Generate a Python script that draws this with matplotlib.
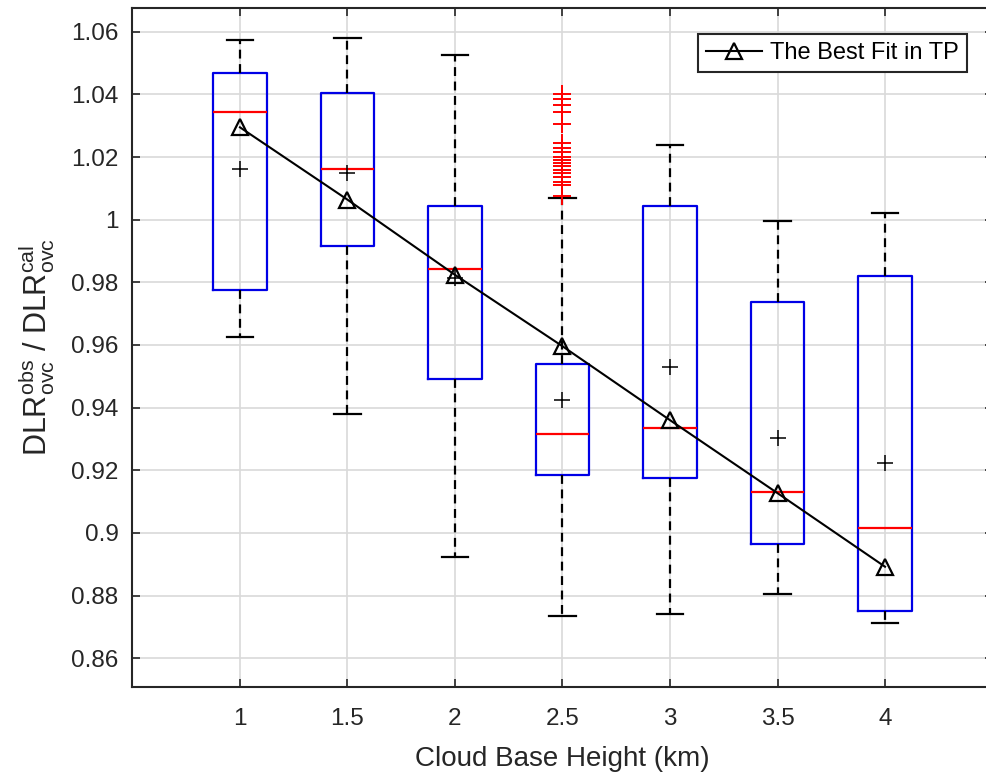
import numpy as np
import matplotlib.pyplot as plt

plt.rcParams['font.family'] = ['Liberation Sans', 'DejaVu Sans']
plt.rcParams['mathtext.fontset'] = 'custom'
plt.rcParams['mathtext.rm'] = 'Liberation Sans'
plt.rcParams['mathtext.it'] = 'Liberation Sans:italic'

# Box statistics
heights = [1, 1.5, 2, 2.5, 3, 3.5, 4]
q1 = [0.9776, 0.9915, 0.9492, 0.9185, 0.9175, 0.8964, 0.8752]
med = [1.0344, 1.0162, 0.9843, 0.9315, 0.9334, 0.9132, 0.9017]
q3 = [1.0468, 1.0403, 1.0043, 0.9539, 1.0043, 0.9736, 0.9821]
whis_lo = [0.9625, 0.9379, 0.8924, 0.8734, 0.8741, 0.8805, 0.8712]
whis_hi = [1.0573, 1.0581, 1.0527, 1.0069, 1.0240, 0.9997, 1.0021]
means = [1.0163, 1.0150, 0.9815, 0.9425, 0.9531, 0.9302, 0.9223]
outliers_25 = [1.0400, 1.0385, 1.0365, 1.0345, 1.0305, 1.0245, 1.0228,
               1.0215, 1.0200, 1.0190, 1.0180, 1.0170, 1.0160, 1.0150,
               1.0135, 1.0120, 1.0110, 1.0075]
fliers = [[], [], [], outliers_25, [], [], []]

# best fit line
fit_vals = [1.0295, 1.0064, 0.9824, 0.9596, 0.9360, 0.9127, 0.8892]

stats = []
for i in range(len(heights)):
    stats.append(dict(med=med[i], q1=q1[i], q3=q3[i], whislo=whis_lo[i],
                      whishi=whis_hi[i], mean=means[i], fliers=fliers[i]))

fig = plt.figure(figsize=(9.87, 7.76), dpi=100)
ax = fig.add_axes([0.1342, 0.1151, 0.8714, 0.8746])

ax.bxp(stats, positions=heights, widths=0.25, showmeans=True,
       boxprops=dict(color='#0000e6', linewidth=1.6),
       medianprops=dict(color='#ff0000', linewidth=1.6),
       whiskerprops=dict(color='black', linestyle=(0, (4, 2.5)), linewidth=1.6),
       capprops=dict(color='black', linewidth=1.6),
       capwidths=0.125,
       meanprops=dict(marker='+', markeredgecolor='black', markersize=12,
                      markeredgewidth=1.1),
       flierprops=dict(marker='+', markeredgecolor='red', markersize=13,
                       markeredgewidth=1.4, linestyle='none'),
       zorder=3)

ax.plot(heights, fit_vals, color='black', linewidth=1.5, marker='^',
        markersize=12, markerfacecolor='none', markeredgecolor='black',
        markeredgewidth=1.6, label='The Best Fit in TP', zorder=4)

ax.set_xlim(0.5, 4.5)
ax.set_ylim(0.8509, 1.0676)
ax.set_xticks(heights)
ax.set_xticklabels(['1', '1.5', '2', '2.5', '3', '3.5', '4'])
ax.set_yticks(np.arange(0.86, 1.061, 0.02))
ax.set_yticklabels(['0.86', '0.88', '0.9', '0.92', '0.94', '0.96', '0.98',
                    '1', '1.02', '1.04', '1.06'])
ax.tick_params(direction='in', length=6, width=1.2, top=True, right=True,
               labelsize=17.5, colors='#262626')
ax.tick_params(axis='x', pad=15)
ax.tick_params(axis='y', pad=10)
ax.grid(True, color='#d9d9d9', linewidth=1.2)
ax.set_axisbelow(True)
for s in ax.spines.values():
    s.set_color('#262626')
    s.set_linewidth(1.5)

ax.set_xlabel('Cloud Base Height (km)', fontsize=20, color='#262626', labelpad=12)
ax.set_ylabel(r'DLR$_{\mathrm{ovc}}^{\mathrm{obs}}$ / DLR$_{\mathrm{ovc}}^{\mathrm{cal}}$',
              fontsize=22, color='#262626', labelpad=10)

leg = ax.legend(loc='upper right', borderaxespad=1.1, fontsize=17,
                fancybox=False, framealpha=1, edgecolor='#262626',
                handlelength=2.4, handletextpad=0.3, borderpad=0.35)
leg.get_frame().set_linewidth(1.5)

plt.savefig('out.png', dpi=100)
